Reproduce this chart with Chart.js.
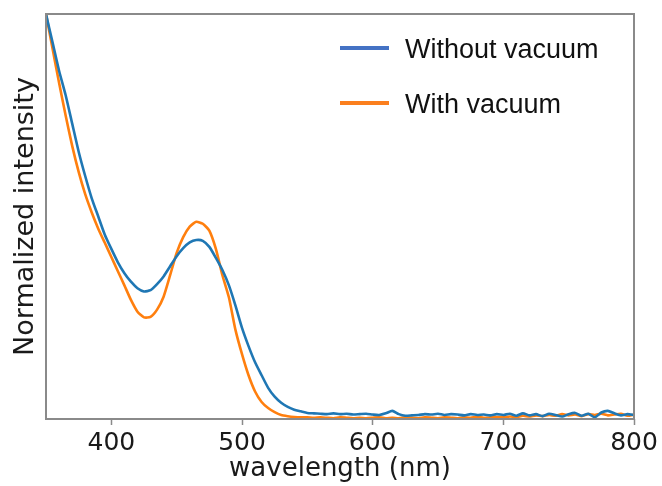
<!DOCTYPE html>
<html>
<head>
<meta charset="utf-8">
<script src="https://cdn.jsdelivr.net/npm/chart.js@4/dist/chart.umd.min.js"></script>
<style>
	html, body { margin: 0; padding: 0; background: #ffffff; }
	#wrap { width: 662px; height: 486px; }
</style>
</head>
<body>
<div id="wrap"><canvas id="my-chart" width="662" height="486"></canvas></div>
<script>
//Data

const wavelengths = [
	350, 355, 360, 365, 370, 375, 380, 385, 390, 395,
	400, 405, 410, 415, 420, 425, 430, 435, 440, 445,
	450, 455, 460, 465, 470, 475, 480, 485, 490, 495,
	500, 505, 510, 515, 520, 525, 530, 535, 540, 545,
	550, 555, 560, 565, 570, 575, 580, 585, 590, 595,
	600, 605, 610, 615, 620, 625, 630, 635, 640, 645,
	650, 655, 660, 665, 670, 675, 680, 685, 690, 695,
	700, 705, 710, 715, 720, 725, 730, 735, 740, 745,
	750, 755, 760, 765, 770, 775, 780, 785, 790, 795,
	800
];

const withoutVacuum = [
	1.0, 0.93, 0.86, 0.80, 0.73, 0.66, 0.60, 0.545, 0.50, 0.455,
	0.42, 0.387, 0.36, 0.339, 0.323, 0.315, 0.318, 0.333, 0.352, 0.377,
	0.402, 0.422, 0.436, 0.442, 0.44, 0.425, 0.398, 0.368, 0.33, 0.28,
	0.225, 0.18, 0.14, 0.108, 0.077, 0.055, 0.04, 0.03, 0.023, 0.019,
	0.015, 0.014, 0.013, 0.012, 0.014, 0.012, 0.013, 0.011, 0.012, 0.013,
	0.011, 0.010, 0.014, 0.020, 0.012, 0.008, 0.009, 0.010, 0.012, 0.011,
	0.013, 0.010, 0.012, 0.011, 0.009, 0.012, 0.010, 0.011, 0.009, 0.012,
	0.010, 0.013, 0.008, 0.014, 0.009, 0.012, 0.007, 0.013, 0.010, 0.006,
	0.012, 0.015, 0.008, 0.013, 0.004, 0.016, 0.020, 0.014, 0.009, 0.012,
	0.010
];

const withVacuum = [
	1.0, 0.915, 0.83, 0.75, 0.675, 0.61, 0.555, 0.51, 0.47, 0.435,
	0.40, 0.365, 0.33, 0.294, 0.265, 0.251, 0.252, 0.27, 0.302, 0.355,
	0.41, 0.449, 0.475, 0.487, 0.482, 0.465, 0.42, 0.355, 0.30, 0.22,
	0.16, 0.108, 0.068, 0.042, 0.027, 0.017, 0.010, 0.007, 0.005, 0.004,
	0.004, 0.003, 0.004, 0.003, 0.002, 0.004, 0.003, 0.002, 0.003, 0.002,
	0.003, 0.004, 0.002, 0.003, 0.002, 0.004, 0.003, 0.002, 0.004, 0.003,
	0.002, 0.004, 0.003, 0.002, 0.004, 0.003, 0.005, 0.003, 0.004, 0.005,
	0.004, 0.006, 0.005, 0.008, 0.006, 0.009, 0.007, 0.010, 0.008, 0.012,
	0.009, 0.011, 0.007, 0.012, 0.010, 0.013, 0.009, 0.011, 0.013, 0.008,
	0.011
];

const xTicks = [400, 500, 600, 700, 800];

const seriesLabels = ["Without vacuum", "With vacuum"];
const lineColors = ["#1f77b4", "#ff7f0e"];
const legendColors = ["#4472c4", "#fb7f1e"];

function toPoints(values) {
	return wavelengths.map((w, i) => ({ x: w, y: values[i] }));
}

//Plugins

const frame = {
	id: "frame",
	afterDatasetsDraw(chart) {
		const { ctx, chartArea } = chart;
		ctx.save();
		ctx.strokeStyle = "#8a8a8a";
		ctx.lineWidth = 2;
		ctx.strokeRect(chartArea.left, chartArea.top,
			chartArea.right - chartArea.left, chartArea.bottom - chartArea.top);
		ctx.restore();
	},
};

const insideLegend = {
	id: "insideLegend",
	afterDraw(chart) {
		const ctx = chart.ctx;
		ctx.save();
		ctx.font = "27px 'Liberation Sans', Arial, sans-serif";
		ctx.textBaseline = "alphabetic";
		ctx.fillStyle = "#111111";
		chart.data.datasets.forEach((ds, i) => {
			const y = 48 + i * 55;
			ctx.strokeStyle = ds.legendColor;
			ctx.lineWidth = 4;
			ctx.beginPath();
			ctx.moveTo(340, y);
			ctx.lineTo(389, y);
			ctx.stroke();
			ctx.fillText(ds.label, 405, y + 10);
		});
		ctx.restore();
	},
};

//Chart

const ctx = document.getElementById("my-chart").getContext("2d");

const data = {
	datasets: [
		{
			label: seriesLabels[0],
			data: toPoints(withoutVacuum),
			borderColor: lineColors[0],
			legendColor: legendColors[0],
			borderWidth: 2.6,
			pointRadius: 0,
			tension: 0.2,
		},
		{
			label: seriesLabels[1],
			data: toPoints(withVacuum),
			borderColor: lineColors[1],
			legendColor: legendColors[1],
			borderWidth: 2.6,
			pointRadius: 0,
			tension: 0.2,
		},
	],
};

const config = {
	type: "line",
	data: data,
	plugins: [frame, insideLegend],
	options: {
		responsive: false,
		animation: false,
		events: [],
		layout: {
			padding: { top: 14, right: 28, left: 0, bottom: 0 },
		},
		plugins: {
			legend: { display: false },
			tooltip: { enabled: false },
		},
		scales: {
			x: {
				type: "linear",
				min: 350,
				max: 800,
				afterBuildTicks: (scale) => {
					scale.ticks = xTicks.map((v) => ({ value: v }));
				},
				afterFit: (scale) => {
					scale.height = 67;
				},
				border: { display: false },
				grid: {
					drawOnChartArea: false,
					drawTicks: true,
					tickLength: 6,
					tickColor: "#8a8a8a",
					tickWidth: 1.5,
				},
				ticks: {
					color: "#1a1a1a",
					padding: 3,
					maxRotation: 0,
					font: { family: "'DejaVu Sans'", size: 25 },
				},
				title: {
					display: true,
					text: "wavelength (nm)",
					color: "#1a1a1a",
					font: { family: "'DejaVu Sans'", size: 26, lineHeight: 1 },
					padding: { top: 0, bottom: 4 },
				},
			},
			y: {
				min: 0,
				max: 1,
				afterFit: (scale) => {
					scale.width = 46;
				},
				border: { display: false },
				grid: { display: false },
				ticks: { display: false },
				title: {
					display: true,
					text: "Normalized intensity",
					color: "#1a1a1a",
					font: { family: "'DejaVu Sans'", size: 27, lineHeight: 1 },
					padding: { top: 12, bottom: 0 },
				},
			},
		},
	},
};

new Chart(ctx, config);
</script>
</body>
</html>
